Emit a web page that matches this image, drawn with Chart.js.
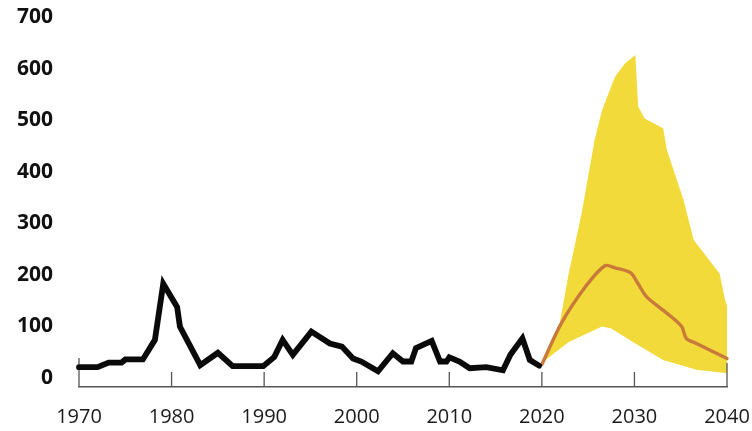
<!DOCTYPE html>
<html>
<head>
<meta charset="utf-8">
<script src="https://cdn.jsdelivr.net/npm/chart.js@4/dist/chart.umd.min.js"></script>
<style>
  html, body { margin: 0; padding: 0; background: #ffffff; }
  #wrap { width: 752px; height: 431px; position: relative; }
</style>
</head>
<body>
<div id="wrap"><canvas id="c" width="752" height="431"></canvas></div>
<script>
// ---- Data ----
const historyYears  = [1970, 1972, 1973.2, 1974.6, 1975, 1976.9, 1978.2, 1979.1, 1980.6, 1980.9, 1983.1, 1985, 1986.6, 1989.9, 1991.1, 1992, 1993.1, 1995.1, 1997.1, 1998.4, 1999.6, 2000.5, 2002.3, 2003.9, 2005, 2005.9, 2006.4, 2008.1, 2009, 2009.7, 2010, 2011.1, 2012.2, 2014, 2015.8, 2016.6, 2017.9, 2018.7, 2019.7];
const historyValues = [21, 21, 30, 30, 36, 36, 74, 183, 138, 100, 25, 49, 23, 23, 41, 74, 45, 90, 67, 61, 38, 32, 13, 48, 32, 32, 58, 72, 32, 32, 40, 32, 19, 21, 15, 45, 77, 35, 24];

const forecastYears  = [2020, 2022.1, 2024.7, 2026.8, 2027.9, 2029.6, 2030.3, 2031.3, 2033.5, 2035.1, 2035.6, 2036.7, 2040];
const forecastValues = [26, 106, 177, 218, 214, 204, 186, 158, 126, 100, 77, 67, 38];

const bandUpperYears  = [2020, 2021.8, 2022.9, 2024.3, 2025.7, 2026.5, 2027.9, 2029, 2030.1, 2030.4, 2031.1, 2033.1, 2033.5, 2035.3, 2036.4, 2039.2, 2039.8, 2040];
const bandUpperValues = [26, 93, 203, 320, 462, 520, 585, 611, 627, 527, 504, 485, 443, 346, 268, 203, 151, 140];

const bandLowerYears  = [2020, 2020.4, 2022.9, 2026.5, 2027.5, 2030.1, 2033.1, 2036.7, 2040];
const bandLowerValues = [26, 35, 70, 100, 96, 67, 35, 16, 9];

const xTickLabels = [1970, 1980, 1990, 2000, 2010, 2020, 2030, 2040];
const yTickLabels = [0, 100, 200, 300, 400, 500, 600, 700];

// ---- Build library structures ----
const toPoints = (xs, ys) => xs.map((x, i) => ({ x: x, y: ys[i] }));

const tickMarks = {
  id: 'tickMarks',
  beforeDatasetsDraw(chart) {
    const xs = chart.scales.x;
    const ctx = chart.ctx;
    const base = xs.top;
    ctx.save();
    ctx.strokeStyle = '#555555';
    ctx.lineWidth = 1.3;
    xTickLabels.forEach((v, i) => {
      const px = xs.getPixelForValue(v);
      let len = 15;
      if (i === 0) len = 29;
      if (i === xTickLabels.length - 1) len = 24;
      ctx.beginPath();
      ctx.moveTo(px, base);
      ctx.lineTo(px, base - len);
      ctx.stroke();
    });
    ctx.restore();
  }
};

const bg = {
  id: 'bg',
  beforeDraw(chart) {
    const ctx = chart.ctx;
    ctx.save();
    ctx.fillStyle = '#ffffff';
    ctx.fillRect(0, 0, chart.width, chart.height);
    ctx.restore();
  }
};

new Chart(document.getElementById('c'), {
  type: 'line',
  data: {
    datasets: [
      {
        label: 'band upper',
        data: toPoints(bandUpperYears, bandUpperValues),
        borderColor: 'transparent',
        borderWidth: 0,
        backgroundColor: '#f2da3a',
        pointRadius: 0,
        tension: 0,
        fill: { target: 1 },
        order: 4
      },
      {
        label: 'band lower',
        data: toPoints(bandLowerYears, bandLowerValues),
        borderColor: 'transparent',
        borderWidth: 0,
        pointRadius: 0,
        tension: 0,
        fill: false,
        order: 3
      },
      {
        label: 'forecast',
        data: toPoints(forecastYears, forecastValues),
        borderColor: '#c97a3a',
        borderWidth: 3.4,
        pointRadius: 0,
        tension: 0.3,
        fill: false,
        borderCapStyle: 'round',
        borderJoinStyle: 'round',
        clip: false,
        order: 2
      },
      {
        label: 'history',
        data: toPoints(historyYears, historyValues),
        borderColor: '#0a0a0a',
        borderWidth: 5.8,
        pointRadius: 0,
        tension: 0,
        fill: false,
        borderCapStyle: 'round',
        borderJoinStyle: 'miter',
        clip: false,
        order: 1
      }
    ]
  },
  options: {
    responsive: false,
    animation: false,
    devicePixelRatio: 1,
    layout: { padding: { left: 0, right: 25, top: 17.5, bottom: 0 } },
    plugins: {
      legend: { display: false },
      tooltip: { enabled: false },
      filler: { drawTime: 'beforeDatasetsDraw' }
    },
    scales: {
      x: {
        type: 'linear',
        min: 1970,
        max: 2040,
        grid: { display: false, drawTicks: false },
        border: { display: true, color: '#555555', width: 1.5 },
        afterBuildTicks(scale) { scale.ticks = xTickLabels.map(v => ({ value: v })); },
        afterFit(scale) { scale.height = 44; scale.paddingLeft = 0; scale.paddingRight = 0; },
        ticks: {
          padding: 18,
          maxRotation: 0,
          autoSkip: false,
          color: '#1a1a1a',
          font: { family: "'Open Sans', sans-serif", size: 20, weight: 'normal' },
          callback: v => String(v)
        }
      },
      y: {
        type: 'linear',
        min: -17.5,
        max: 700,
        grid: { display: false, drawTicks: false },
        border: { display: false },
        afterBuildTicks(scale) { scale.ticks = yTickLabels.map(v => ({ value: v })); },
        afterFit(scale) { scale.width = 79; scale.paddingTop = 0; scale.paddingBottom = 0; },
        ticks: {
          padding: 26,
          autoSkip: false,
          color: '#111111',
          font: { family: "'Open Sans', sans-serif", size: 21, weight: 'bold' },
          callback: v => String(v)
        }
      }
    }
  },
  plugins: [bg, tickMarks]
});
</script>
</body>
</html>
